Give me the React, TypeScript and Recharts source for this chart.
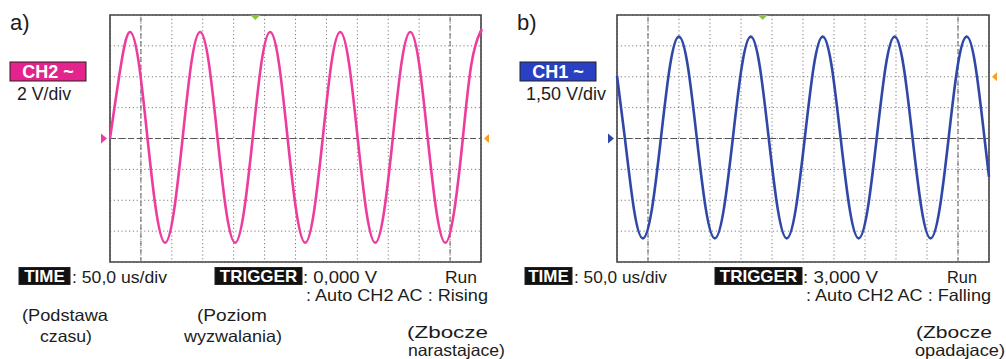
import React from 'react'
import {
  LineChart,
  Line,
  XAxis,
  YAxis,
  CartesianGrid,
  ReferenceLine,
  ReferenceArea,
  ReferenceDot,
} from 'recharts'

// time axis: 12 div x 50 us
const timeTicks = [0, 50, 100, 150, 200, 250, 300, 350, 400, 450, 500, 550, 600]
const cursorTimes = [50, 550]
const triggerTime = 235

// a) CH2, 2 V/div
const ch2VoltTicks = [-8, -6, -4, -2, 0, 2, 4, 6, 8]
const ch2Times = [
  0, 18.2, 32.4, 46.6, 60.7, 74.9, 89.1, 103.2, 117.4, 131.5, 145.7, 159.9, 174.0, 188.2, 202.4,
  216.5, 230.7, 244.8, 259.0, 273.2, 287.3, 301.5, 315.7, 329.8, 344.0, 358.1, 372.3, 386.5,
  400.6, 414.8, 429.0, 443.1, 457.3, 471.4, 485.6, 499.8, 513.9, 528.1, 542.3, 556.4, 570.6,
  584.7, 598.9, 600,
]
const ch2Volts = [
  0, 4.88,
  6.9, 4.88, 0, -4.77, -6.75, -4.77, 0, 4.88,
  6.9, 4.88, 0, -4.77, -6.75, -4.77, 0, 4.88,
  6.9, 4.88, 0, -4.77, -6.75, -4.77, 0, 4.88,
  6.9, 4.88, 0, -4.77, -6.75, -4.77, 0, 4.88,
  6.9, 4.88, 0, -4.77, -6.75, -4.77, 0, 4.88,
  6.9, 6.9,
]
const ch2Trigger = 0

// b) CH1, 1,50 V/div
const ch1VoltTicks = [-6, -4.5, -3, -1.5, 0, 1.5, 3, 4.5, 6]
const ch1Times = [
  0, 12.8, 27.3, 41.8, 56.3, 70.8, 85.3, 99.8, 114.3, 128.8, 143.3, 157.8, 172.3, 186.8, 201.3,
  215.8, 230.3, 244.8, 259.3, 273.8, 288.3, 302.8, 317.3, 331.8, 346.3, 360.8, 375.3, 389.8,
  404.3, 418.8, 433.3, 447.8, 462.3, 476.8, 491.3, 505.8, 520.3, 534.8, 549.3, 563.8, 578.3,
  592.8, 600,
]
const ch1Volts = [
  3.05,
  0, -3.43, -4.85, -3.43, 0, 3.5, 4.95, 3.5,
  0, -3.43, -4.85, -3.43, 0, 3.5, 4.95, 3.5,
  0, -3.43, -4.85, -3.43, 0, 3.5, 4.95, 3.5,
  0, -3.43, -4.85, -3.43, 0, 3.5, 4.95, 3.5,
  0, -3.43, -4.85, -3.43, 0, 3.5, 4.95, 3.5,
  0, -1.86,
]
const ch1Trigger = 3

const FONT = "'Liberation Sans', Arial, sans-serif"
const INK = '#1c1c1c'

const toRows = (ts: number[], vs: number[]) => ts.map((t, i) => ({ t, v: vs[i] }))

const triRight = (color: string) => (p: any) => (
  <path d={`M${p.cx - 9},${p.cy - 5} L${p.cx - 3},${p.cy} L${p.cx - 9},${p.cy + 5} Z`} fill={color} />
)
const triLeft = (color: string) => (p: any) => (
  <path d={`M${p.cx + 8},${p.cy - 4.5} L${p.cx + 3},${p.cy} L${p.cx + 8},${p.cy + 4.5} Z`} fill={color} />
)
const triDown = (color: string) => (p: any) => (
  <path d={`M${p.cx - 5},${p.cy} L${p.cx + 5},${p.cy} L${p.cx},${p.cy + 5} Z`} fill={color} />
)

interface ScopeProps {
  left: number
  times: number[]
  volts: number[]
  voltTicks: number[]
  trigger: number
  color: string
  plotWidth: number
}

function Scope({ left, times, volts, voltTicks, trigger, color, plotWidth }: ScopeProps) {
  const yMax = voltTicks[voltTicks.length - 1]
  const w = 420
  return (
    <div style={{ position: 'absolute', left, top: 0 }}>
      <LineChart
        width={w}
        height={280}
        data={toRows(times, volts)}
        margin={{ top: 15, left: 20, right: w - 20 - plotWidth, bottom: 18 }}
      >
        <XAxis type="number" dataKey="t" domain={[0, 600]} ticks={timeTicks} hide />
        <YAxis type="number" domain={[-yMax, yMax]} ticks={voltTicks} hide />
        <CartesianGrid stroke="#7a7a7a" strokeDasharray="1.2 2.6" strokeWidth={1} />
        {cursorTimes.map((t) => (
          <ReferenceLine key={t} x={t} stroke="#666" strokeDasharray="5 3" strokeWidth={1} />
        ))}
        <ReferenceLine y={0} stroke="#555" strokeDasharray="6 3" strokeWidth={1.2} />
        <ReferenceArea
          x1={0}
          x2={600}
          y1={-yMax}
          y2={yMax}
          fill="none"
          stroke="#444"
          strokeWidth={1.6}
        />
        <Line
          type="natural"
          dataKey="v"
          stroke={color}
          strokeWidth={2.6}
          dot={false}
          isAnimationActive={false}
        />
        <ReferenceDot x={0} y={0} shape={triRight(color)} ifOverflow="visible" />
        <ReferenceDot x={600} y={trigger} shape={triLeft('#f5a020')} ifOverflow="visible" />
        <ReferenceDot x={triggerTime} y={yMax} shape={triDown('#8cc63f')} ifOverflow="visible" />
      </LineChart>
    </div>
  )
}

function Label({ x, y, w, h, text, fill, size }: { x: number; y: number; w: number; h: number; text: string; fill: string; size: number }) {
  return (
    <g>
      <rect x={x} y={y} width={w} height={h} fill={fill} stroke="#222" strokeWidth={1} />
      <text
        x={x + w / 2}
        y={y + h - 3}
        textAnchor="middle"
        fill="#fff"
        fontWeight="bold"
        fontSize={size}
      >
        {text}
      </text>
    </g>
  )
}

function T({ x, y, len, text, size = 16.5 }: { x: number; y: number; len: number; text: string; size?: number }) {
  return (
    <text x={x} y={y} fontSize={size} fill={INK} textLength={len} lengthAdjust="spacingAndGlyphs">
      {text}
    </text>
  )
}

export default function App() {
  return (
    <div style={{ position: 'absolute', left: 0, top: 0, width: 1006, height: 359, background: '#fff', fontFamily: FONT }}>
      <Scope left={90} times={ch2Times} volts={ch2Volts} voltTicks={ch2VoltTicks} trigger={ch2Trigger} color="#ee3c9e" plotWidth={371} />
      <Scope left={597} times={ch1Times} volts={ch1Volts} voltTicks={ch1VoltTicks} trigger={ch1Trigger} color="#2f48a8" plotWidth={372} />

      <svg width={1006} height={359} style={{ position: 'absolute', left: 0, top: 0, pointerEvents: 'none' }} fontFamily={FONT}>
        {/* panel a */}
        <text x={10} y={29.5} fontSize={22} fill={INK}>a)</text>
        <Label x={10} y={62} w={76} h={19} text="CH2 ~" fill="#e4248c" size={18} />
        <T x={17} y={100} len={54} text="2 V/div" size={17.5} />

        <Label x={19} y={267.5} w={51} h={17} text="TIME" fill="#111" size={17} />
        <T x={72} y={282.5} len={95} text=": 50,0 us/div" />
        <Label x={215} y={267.5} w={87} h={17} text="TRIGGER" fill="#111" size={17} />
        <T x={303} y={282.5} len={74} text=": 0,000 V" />
        <T x={445} y={282.5} len={32} text="Run" />
        <T x={306} y={301} len={182} text=": Auto CH2 AC : Rising" />
        <T x={22} y={321} len={86} text="(Podstawa" />
        <T x={40} y={342} len={52} text="czasu)" />
        <T x={197} y={321} len={70} text="(Poziom" />
        <T x={184} y={342} len={98} text="wyzwalania)" />
        <T x={407} y={337.5} len={81} text="(Zbocze" />
        <T x={408} y={356} len={97} text="narastajace)" />

        {/* panel b */}
        <text x={517} y={29.5} fontSize={22} fill={INK}>b)</text>
        <Label x={520} y={62} w={76} h={19} text="CH1 ~" fill="#2a40c2" size={18} />
        <T x={526} y={100} len={80} text="1,50 V/div" size={17.5} />

        <Label x={525} y={267.5} w={47} h={17} text="TIME" fill="#111" size={17} />
        <T x={574} y={282.5} len={93} text=": 50,0 us/div" />
        <Label x={715} y={267.5} w={87} h={17} text="TRIGGER" fill="#111" size={17} />
        <T x={803} y={282.5} len={75} text=": 3,000 V" />
        <T x={947} y={282.5} len={30} text="Run" />
        <T x={806} y={301} len={185} text=": Auto CH2 AC : Falling" />
        <T x={916} y={337.5} len={76} text="(Zbocze" />
        <T x={915} y={356} len={90} text="opadajace)" />
      </svg>
    </div>
  )
}
